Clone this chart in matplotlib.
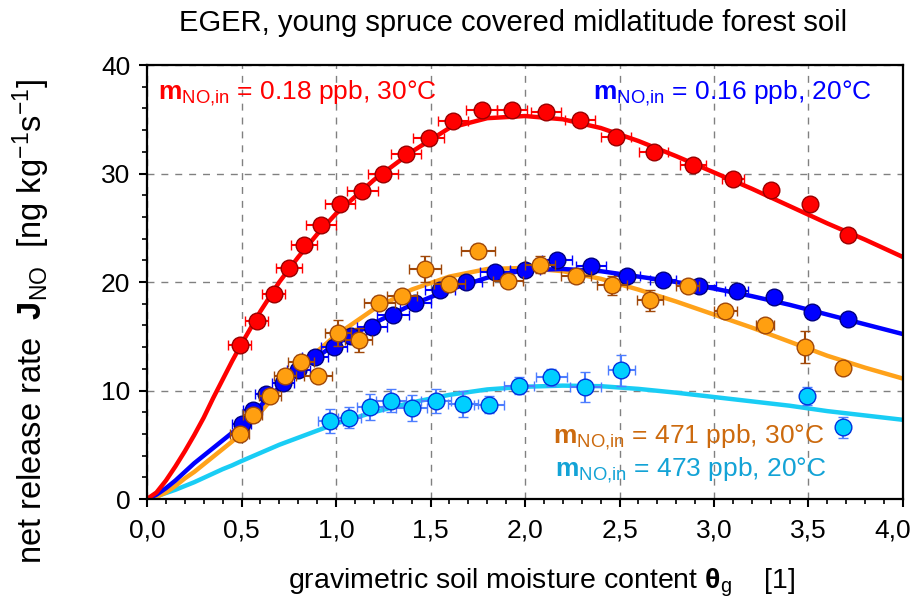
import matplotlib
matplotlib.use('Agg')
import matplotlib.pyplot as plt
from matplotlib.ticker import MultipleLocator
from matplotlib.transforms import ScaledTranslation

plt.rcParams['font.family'] = ['Liberation Sans', 'DejaVu Sans']
plt.rcParams['mathtext.fontset'] = 'custom'
plt.rcParams['mathtext.rm'] = 'Liberation Sans'
plt.rcParams['mathtext.it'] = 'Liberation Sans:italic'
plt.rcParams['mathtext.bf'] = 'Liberation Sans:bold'

red_x = [0.49, 0.58, 0.67, 0.75, 0.83, 0.92, 1.02, 1.14, 1.25, 1.37, 1.49, 1.62,
         1.77, 1.93, 2.11, 2.29, 2.48, 2.68, 2.89, 3.10, 3.30, 3.51, 3.71]
red_y = [14.2, 16.4, 18.9, 21.3, 23.4, 25.3, 27.2, 28.4, 30.0, 31.8, 33.3, 34.8,
         35.9, 35.9, 35.7, 34.9, 33.4, 32.0, 30.8, 29.5, 28.5, 27.2, 24.3]
red_xerr = [0.06, 0.06, 0.06, 0.07, 0.07, 0.08, 0.08, 0.08, 0.08, 0.08, 0.08, 0.08,
            0.08, 0.08, 0.08, 0.08, 0.08, 0.075, 0.07, 0.06, 0.03, 0.02, 0.02]
red_yerr = [0.3] * 23

blue_x = [0.50, 0.56, 0.63, 0.72, 0.80, 0.89, 0.99, 1.08, 1.19, 1.30, 1.42, 1.55,
          1.69, 1.84, 2.00, 2.17, 2.35, 2.54, 2.73, 2.92, 3.12, 3.32, 3.52, 3.71]
blue_y = [6.9, 8.2, 9.7, 10.7, 11.9, 13.1, 14.0, 15.0, 15.9, 17.0, 18.1, 19.3,
          20.0, 20.9, 21.1, 22.0, 21.5, 20.6, 20.2, 19.6, 19.2, 18.6, 17.2, 16.6]
blue_xerr = [0.05, 0.05, 0.06, 0.06, 0.06, 0.07, 0.07, 0.08, 0.08, 0.085, 0.08, 0.08,
             0.08, 0.08, 0.08, 0.08, 0.08, 0.07, 0.07, 0.09, 0.06, 0.03, 0.03, 0.03]
blue_yerr = [0.4] * 24

orange_x = [0.49, 0.56, 0.65, 0.73, 0.815, 0.905, 1.01, 1.12, 1.23, 1.35, 1.47, 1.60,
            1.75, 1.91, 2.08, 2.27, 2.46, 2.66, 2.86, 3.06, 3.27, 3.48, 3.68]
orange_y = [6.0, 7.7, 9.5, 11.3, 12.65, 11.3, 15.3, 14.65, 18.1, 18.7, 21.2, 19.8,
            22.9, 20.1, 21.6, 20.6, 19.7, 18.3, 19.6, 17.3, 16.0, 14.0, 12.1]
orange_xerr = [0.05, 0.05, 0.06, 0.06, 0.07, 0.075, 0.07, 0.07, 0.08, 0.08, 0.085, 0.08,
               0.09, 0.08, 0.08, 0.08, 0.08, 0.07, 0.06, 0.06, 0.05, 0.03, 0.02]
orange_yerr = [0.5, 0.5, 0.5, 0.5, 0.6, 0.5, 1.2, 1.1, 0.6, 0.6, 1.2, 0.6,
               0.6, 0.6, 0.8, 0.6, 0.9, 1.0, 0.5, 0.3, 0.5, 1.5, 0.3]

cyan_x = [0.97, 1.07, 1.18, 1.29, 1.40, 1.53, 1.67, 1.81, 1.97, 2.14, 2.32, 2.51,
          3.49, 3.68]
cyan_y = [7.2, 7.5, 8.5, 9.06, 8.4, 9.06, 8.8, 8.7, 10.45, 11.2, 10.35, 11.85,
          9.5, 6.6]
cyan_xerr = [0.065, 0.06, 0.07, 0.08, 0.08, 0.08, 0.08, 0.08, 0.08, 0.08, 0.08, 0.07,
             0.02, 0.02]
cyan_yerr = [1.1, 1.0, 1.2, 1.05, 1.2, 1.1, 1.2, 0.8, 0.8, 0.75, 1.4, 1.4,
             0.8, 1.0]

# --- fitted curves ---
curve_x = [0, 0.05, 0.1, 0.15, 0.2, 0.25, 0.3, 0.35, 0.4, 0.45, 0.5, 0.6, 0.7, 0.8,
           0.9, 1.0, 1.2, 1.4, 1.6, 1.8, 2.0, 2.2, 2.4, 2.6, 2.8, 3.0, 3.2, 3.4,
           3.6, 3.8, 4.0]
red_curve = [0, 0.6, 1.7, 3.0, 4.4, 5.9, 7.5, 9.3, 11.0, 12.7, 14.3, 17.3, 20.0, 22.3,
             24.4, 26.3, 29.4, 32.0, 34.2, 35.1, 35.3, 35.0, 34.2, 33.0, 31.6, 30.1,
             28.6, 27.0, 25.4, 23.9, 22.3]
blue_curve = [0, 0.4, 1.0, 1.7, 2.5, 3.3, 4.0, 4.7, 5.4, 6.1, 6.8, 8.6, 10.3, 11.8,
              13.1, 14.3, 16.2, 17.9, 19.3, 20.4, 21.1, 21.2, 21.0, 20.5, 20.0, 19.4,
              18.7, 17.9, 17.0, 16.1, 15.2]
orange_curve = [0, 0.2, 0.6, 1.2, 1.9, 2.5, 3.2, 3.9, 4.6, 5.3, 6.1, 8.0, 10.0, 11.9,
                13.6, 15.1, 17.5, 19.3, 20.5, 21.2, 21.3, 21.0, 20.3, 19.3, 18.2, 17.0,
                15.8, 14.5, 13.2, 12.1, 11.1]
cyan_curve = [0, 0.25, 0.55, 0.85, 1.2, 1.55, 1.95, 2.35, 2.75, 3.1, 3.5, 4.25, 5.0,
              5.65, 6.3, 6.95, 8.0, 8.9, 9.6, 10.1, 10.35, 10.45, 10.4, 10.15, 9.8,
              9.4, 9.0, 8.6, 8.1, 7.7, 7.3]

xtick_values = [0.0, 0.5, 1.0, 1.5, 2.0, 2.5, 3.0, 3.5, 4.0]
xtick_labels = ['0,0', '0,5', '1,0', '1,5', '2,0', '2,5', '3,0', '3,5', '4,0']
ytick_values = [0, 10, 20, 30, 40]

fig = plt.figure(figsize=(9.16, 6.01), dpi=100)
ax = fig.add_axes([0.1605, 0.1697, 0.8253, 0.7221])

# curves below the markers
ax.plot(curve_x, cyan_curve, color='#19cdf5', lw=3.2, zorder=2)
ax.plot(curve_x, orange_curve, color='#ffa21a', lw=3.2, zorder=2)
ax.plot(curve_x, blue_curve, color='#0000ff', lw=3.2, zorder=2)
ax.plot(curve_x, red_curve, color='#ff0000', lw=3.2, zorder=2)

eb = dict(fmt='o', ms=12, mew=1.0, elinewidth=1.5, capsize=3.5, capthick=1.5)
ax.errorbar(cyan_x, cyan_y, xerr=cyan_xerr, yerr=cyan_yerr, mfc='#00cfff',
            mec='#0033dd', ecolor='#4d7dff', zorder=3, **eb)
ax.errorbar(red_x, red_y, xerr=red_xerr, yerr=red_yerr, mfc='#ff0000',
            mec='#990000', ecolor='#ff0000', zorder=3, **eb)
ax.errorbar(blue_x, blue_y, xerr=blue_xerr, yerr=blue_yerr, mfc='#0000ff',
            mec='#000080', ecolor='#0000ff', zorder=4, **eb)
ax.errorbar(orange_x, orange_y, xerr=orange_xerr, yerr=orange_yerr, mfc='#ff9f10',
            mec='#a0480a', ecolor='#a0480a', zorder=5, **eb)

ax.set_xlim(0, 4)
ax.set_ylim(0, 40)
ax.set_xticks(xtick_values)
ax.set_xticklabels(xtick_labels)
ax.set_yticks(ytick_values)
ax.xaxis.set_minor_locator(MultipleLocator(0.1))
ax.yaxis.set_minor_locator(MultipleLocator(2))
ax.tick_params(which='major', direction='out', length=6, width=1.5, labelsize=19)
ax.tick_params(which='minor', direction='out', length=3.5, width=1.2)
ax.tick_params(axis='x', pad=8)
ax.tick_params(axis='y', pad=6)
for s in ax.spines.values():
    s.set_linewidth(1.6)

# last x label pulled inside the figure, as in the original
last = ax.get_xticklabels()[-1]
last.set_transform(last.get_transform() + ScaledTranslation(-0.1, 0, fig.dpi_scale_trans))

ax.grid(True, which='major', color='#808080', ls=(0, (5, 5)), lw=1.0, zorder=0)

ax.set_xlabel(r'gravimetric soil moisture content $\mathbf{\theta}_{\mathrm{g}}$    [1]',
              fontsize=20.5)
ax.xaxis.set_label_coords(0.522, -0.155)
ax.set_ylabel(r'net release rate  $\mathbf{J}_{\mathrm{NO}}$  [ng kg$^{\mathrm{-1}}$s$^{\mathrm{-1}}$]',
              fontsize=23.5)
ax.yaxis.set_label_coords(-0.126, 0.41)

fig.text(0.56, 0.962, 'EGER, young spruce covered midlatitude forest soil',
         ha='center', va='center', fontsize=21)

lab = r'$\mathbf{m}_{\mathrm{NO{,}in}}$'
ax.text(0.0146, 0.935, lab + ' = 0.18 ppb, 30°C', color='#ff0000', fontsize=19,
        transform=ax.transAxes, ha='left', va='center')
ax.text(0.959, 0.935, lab + ' = 0.16 ppb, 20°C', color='#0000ff', fontsize=19,
        transform=ax.transAxes, ha='right', va='center')
ax.text(0.537, 0.143, lab + ' = 471 ppb, 30°C', color='#cc6a0e', fontsize=19,
        transform=ax.transAxes, ha='left', va='center')
ax.text(0.540, 0.067, lab + ' = 473 ppb, 20°C', color='#13a3d6', fontsize=19,
        transform=ax.transAxes, ha='left', va='center')

fig.savefig('out.png', dpi=100)
